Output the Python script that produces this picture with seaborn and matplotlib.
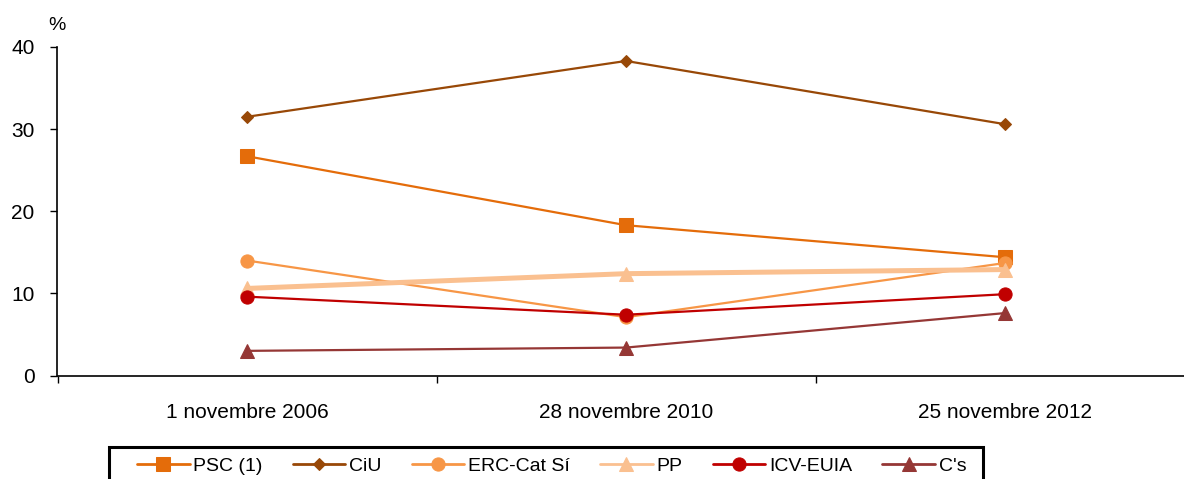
import matplotlib
matplotlib.use("Agg")
import matplotlib.pyplot as plt
from matplotlib.patches import Rectangle
import seaborn as sns

# Data
dates = ["1 novembre 2006", "28 novembre 2010", "25 novembre 2012"]
psc = [26.7, 18.3, 14.4]
ciu = [31.5, 38.3, 30.6]
erc = [14.0, 7.1, 13.7]
pp = [10.6, 12.4, 12.9]
icv = [9.6, 7.4, 9.9]
cs = [3.0, 3.4, 7.6]

sns.set_style("white")
plt.rcParams['font.family'] = ['Liberation Sans', 'DejaVu Sans']
plt.rcParams['text.color'] = 'black'
plt.rcParams['xtick.color'] = 'black'
plt.rcParams['ytick.color'] = 'black'

fig = plt.figure(figsize=(11.84, 4.79), dpi=100)
ax = fig.add_axes([57.5 / 1184, 1 - 375.5 / 479, 1137 / 1184, 328.5 / 479])

# name, values, colour, marker, marker size, line width
series = [
    ("PSC (1)", psc, "#E46C0A", "s", 9.5, 1.6),
    ("CiU", ciu, "#984807", "D", 6.5, 1.6),
    ("ERC-Cat Sí", erc, "#F79646", "o", 9.5, 1.6),
    ("PP", pp, "#FAC090", "^", 10, 3.6),
    ("ICV-EUIA", icv, "#C00000", "o", 9.5, 1.6),
    ("C's", cs, "#953735", "^", 10, 1.6),
]

for name, vals, col, mk, ms, lw in series:
    sns.lineplot(x=dates, y=vals, ax=ax, color=col, marker=mk, markersize=ms,
                 markeredgecolor=col, linewidth=lw, label=name)

ax.set_xlim(-0.5, 2.5)
ax.set_ylim(0, 40)
ax.set_yticks([0, 10, 20, 30, 40])
ax.set_xticks([0, 1, 2])
ax.set_xticks([-0.5, 0.5, 1.5, 2.5], minor=True)
ax.tick_params(axis="x", which="major", length=0, pad=20, labelsize=15)
ax.tick_params(axis="x", which="minor", length=5, width=1, color="black", direction="out", bottom=True)
ax.tick_params(axis="y", length=5, width=1, color="black", direction="out", left=True, pad=11.5, labelsize=15)
ax.set_xlabel("")
ax.set_ylabel("")

sns.despine(ax=ax, top=True, right=True)
for s in ["left", "bottom"]:
    ax.spines[s].set_color("black")
    ax.spines[s].set_linewidth(1.2)

fig.text(57 / 1184, 1 - 25 / 479, "%", ha="center", va="center", fontsize=14)

ax.get_legend().remove()
handles, labels = ax.get_legend_handles_labels()
leg = fig.legend(handles, labels, loc="upper left", bbox_to_anchor=(137 / 1184, 1 - 457 / 479),
                 ncol=6, fontsize=14, frameon=False, borderaxespad=0, borderpad=0,
                 handlelength=2.7, columnspacing=1.55, handletextpad=0.2)
for line in leg.get_lines():
    line.set_linewidth(2)

# legend frame, running off the bottom edge like in the original
fig.patches.append(Rectangle((109 / 1184, -0.05), (983 - 109) / 1184, 0.05 + 32 / 479,
                             transform=fig.transFigure, fill=False, edgecolor="black",
                             linewidth=2.2))

fig.savefig("out.png", dpi=100)
